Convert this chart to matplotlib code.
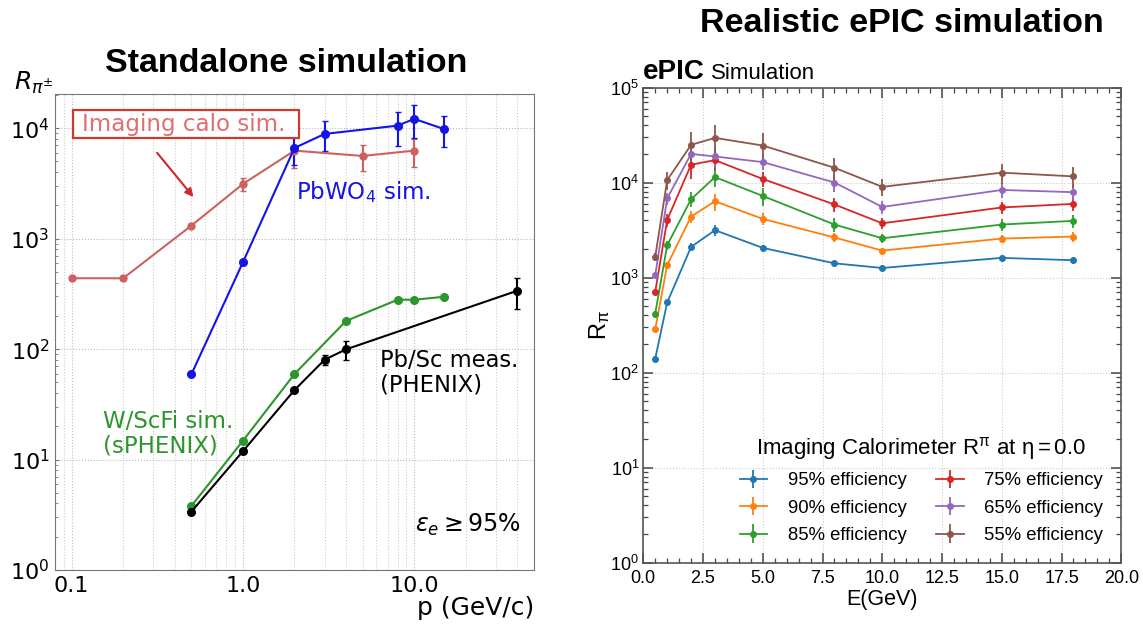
import numpy as np
import matplotlib.pyplot as plt
from matplotlib.patches import Rectangle
from matplotlib.ticker import MultipleLocator, LogLocator, NullFormatter

plt.rcParams['font.family'] = ['Liberation Sans', 'DejaVu Sans']
plt.rcParams['mathtext.fontset'] = 'custom'
plt.rcParams['mathtext.rm'] = 'Liberation Sans'
plt.rcParams['mathtext.it'] = 'Liberation Sans:italic'
plt.rcParams['mathtext.default'] = 'regular'

# ---- left panel data: standalone simulation ----
calo_p = [0.1, 0.2, 0.5, 1.0, 2.0, 5.0, 10.0]
calo_r = [438, 438, 1312, 3130, 6270, 5610, 6270]
calo_err = [0, 0, 0, 450, 1900, 1500, 1800]

pbwo_p = [0.5, 1.0, 2.0, 3.0, 8.0, 10.0, 15.0]
pbwo_r = [59, 611, 6630, 8880, 10560, 12150, 9800]
pbwo_err = [0, 0, 2000, 2700, 3600, 4000, 3000]

wscfi_p = [0.5, 1.0, 2.0, 4.0, 8.0, 10.0, 15.0]
wscfi_r = [3.79, 14.8, 59.5, 180, 280, 280, 298]

pbsc_p = [0.5, 1.0, 2.0, 3.0, 4.0, 40.0]
pbsc_r = [3.37, 11.9, 42.6, 80.2, 99.5, 338]
pbsc_err = [0, 0, 0, 8, 20, 105]

left_xticks = [0.1, 1.0, 10.0]
left_xlabels = ['0.1', '1.0', '10.0']
left_yticks = [1, 10, 100, 1000, 10000]
left_ylabels = ['$10^0$', '$10^1$', '$10^2$', '$10^3$', '$10^4$']

# ---- right panel data: ePIC simulation ----
energy = [0.5, 1, 2, 3, 5, 8, 10, 15, 18]
eff_labels = ['95% efficiency', '90% efficiency', '85% efficiency',
              '75% efficiency', '65% efficiency', '55% efficiency']
r_pi = [
    [140, 546, 2100, 3150, 2050, 1410, 1260, 1610, 1520],
    [286, 1350, 4380, 6350, 4140, 2640, 1920, 2570, 2700],
    [418, 2190, 6670, 11400, 7220, 3610, 2590, 3610, 3950],
    [706, 4040, 15400, 17200, 10900, 5870, 3720, 5460, 5960],
    [1060, 6800, 20000, 18800, 16400, 10000, 5530, 8350, 7910],
    [1650, 10600, 24900, 29500, 24500, 14300, 9000, 12700, 11600],
]
r_pi_err = [
    [10, 40, 200, 400, 150, 100, 80, 120, 120],
    [20, 120, 600, 1300, 600, 300, 150, 250, 350],
    [30, 250, 1200, 2500, 1500, 600, 300, 500, 600],
    [50, 600, 4500, 3500, 2000, 1000, 500, 800, 1000],
    [80, 1000, 2500, 4500, 3000, 2000, 900, 1400, 1400],
    [150, 2300, 9000, 11000, 8500, 3700, 1800, 3000, 2900],
]
colors = ['#1f77b4', '#ff7f0e', '#2ca02c', '#d62728', '#9467bd', '#8c564b']

fig = plt.figure(figsize=(11.43, 6.26), dpi=100)

# ================= left panel =================
dv = dict(family='DejaVu Sans', math_fontfamily='dejavusans')
ax1 = fig.add_axes([0.0481, 0.0895, 0.4191, 0.7599])
ax1.set_xscale('log')
ax1.set_yscale('log')

red = '#cd6060'
blue = '#1414e6'
green = '#2c962c'

ax1.errorbar(calo_p, calo_r, yerr=calo_err, color=red, marker='o', ms=5,
             lw=1.5, capsize=2, elinewidth=1.5)
ax1.errorbar(pbwo_p, pbwo_r, yerr=pbwo_err, color=blue, marker='o', ms=5.5,
             lw=1.5, capsize=2, elinewidth=1.5)
ax1.plot(wscfi_p, wscfi_r, color=green, marker='o', ms=5.5, lw=1.5)
ax1.errorbar(pbsc_p, pbsc_r, yerr=pbsc_err, color='black', marker='o', ms=5.5,
             lw=1.5, capsize=2, elinewidth=1.5)

ax1.set_xlim(0.08, 50)
ax1.set_ylim(1, 2.03e4)
ax1.set_xticks(left_xticks, left_xlabels)
ax1.set_yticks(left_yticks, left_ylabels)
ax1.xaxis.set_minor_formatter(NullFormatter())
ax1.yaxis.set_minor_formatter(NullFormatter())
ax1.tick_params(axis='x', which='both', length=0, labelsize=16, pad=4)
ax1.tick_params(axis='y', which='major', direction='in', length=3, labelsize=16,
                pad=4, color='#777777')
ax1.tick_params(axis='y', which='minor', direction='in', length=2, color='#777777')
for t in ax1.get_xticklabels() + ax1.get_yticklabels():
    t.set_fontfamily('DejaVu Sans')
    t.set_math_fontfamily('dejavusans')
ax1.grid(True, which='major', axis='both', ls=':', color='#bbbbbb', lw=0.8)
ax1.grid(True, which='minor', axis='x', ls=':', color='#cccccc', lw=0.8)
for s in ax1.spines.values():
    s.set_color('#777777')

ax1.set_xlabel('p (GeV/c)', loc='right', fontsize=18, labelpad=0, **dv)

ax1.add_patch(Rectangle((0.0636, 0.7791), 0.198, 0.0452, transform=fig.transFigure,
                        fc='white', ec='#cc3a2a', lw=1.6, zorder=3))
ax1.text(0.1144, 10890, 'Imaging calo sim.', color='#e07070', fontsize=16.6,
         va='center', ha='left', zorder=4, **dv)
ax1.annotate('', xy=(0.527, 2275), xytext=(0.308, 6270),
             arrowprops=dict(arrowstyle='-|>', color='#cc2a2a', lw=1.5,
                             mutation_scale=12))
ax1.text(2.04, 2665, 'PbWO$_4$ sim.', color=blue, fontsize=16.5, va='center', **dv)
ax1.text(6.31, 61.1, 'Pb/Sc meas.\n(PHENIX)', color='black', fontsize=16.3,
         va='center', linespacing=1.1, **dv)
ax1.text(0.152, 17.1, 'W/ScFi sim.\n(sPHENIX)', color=green, fontsize=16.5,
         va='center', linespacing=1.1, **dv)
ax1.text(10.1, 2.55, r'$\mathit{\varepsilon_e} \geq 95\%$', fontsize=17,
         va='center', **dv)

fig.text(0.012, 0.867, r'$\mathit{R_{\pi^{\pm}}}$', fontsize=18, va='center', **dv)
fig.text(0.25, 0.899, 'Standalone simulation', fontsize=24.5, fontweight='bold',
         ha='center', va='center')

# ================= right panel =================
ax2 = fig.add_axes([0.5628, 0.1014, 0.4182, 0.7588])
ax2.set_yscale('log')
for vals, errs, c, lab in zip(r_pi, r_pi_err, colors, eff_labels):
    ax2.errorbar(energy, vals, yerr=errs, color=c, marker='o', ms=4,
                 lw=1.3, elinewidth=1.3, label=lab)

ax2.set_xlim(0, 20)
ax2.set_ylim(1, 1e5)
ax2.xaxis.set_major_locator(MultipleLocator(2.5))
ax2.xaxis.set_minor_locator(MultipleLocator(0.5))
ax2.xaxis.set_major_formatter(plt.FuncFormatter(lambda v, p: f'{v:.1f}'))
ax2.yaxis.set_major_locator(LogLocator(base=10, numticks=10))
ax2.yaxis.set_minor_locator(LogLocator(base=10, subs=np.arange(2, 10), numticks=10))
ax2.yaxis.set_minor_formatter(NullFormatter())
ax2.tick_params(axis='both', which='both', direction='in', top=True, right=True,
                labelsize=13, color='#444444')
ax2.tick_params(axis='x', which='major', pad=5.5)
ax2.tick_params(axis='y', which='major', pad=3)
ax2.tick_params(axis='both', which='major', length=7, width=1.1)
ax2.tick_params(axis='both', which='minor', length=3.6, width=0.9)
ax2.grid(True, which='major', ls=':', color='#cccccc', lw=0.8)
for s in ax2.spines.values():
    s.set_color('#555555')
    s.set_linewidth(1.2)

ax2.set_xlabel('E(GeV)', fontsize=15.5, labelpad=1)
ax2.set_ylabel(r'R$_\pi$', fontsize=17, labelpad=-1)

leg = ax2.legend(loc='lower right', ncol=2, frameon=False, fontsize=13.3,
                 title=r'Imaging Calorimeter R$^\pi$ at $\eta = 0.0$',
                 title_fontsize=16, handlelength=1.5, handletextpad=1.1,
                 columnspacing=1.6, borderaxespad=0.6, labelspacing=0.56)

fig.text(0.5628, 0.8733, 'ePIC', fontsize=20, fontweight='bold', va='baseline')
fig.text(0.622, 0.8733, 'Simulation', fontsize=16, va='baseline')
fig.text(0.789, 0.962, 'Realistic ePIC simulation', fontsize=24.5, fontweight='bold',
         ha='center', va='center')

fig.savefig('out.png', dpi=100)
